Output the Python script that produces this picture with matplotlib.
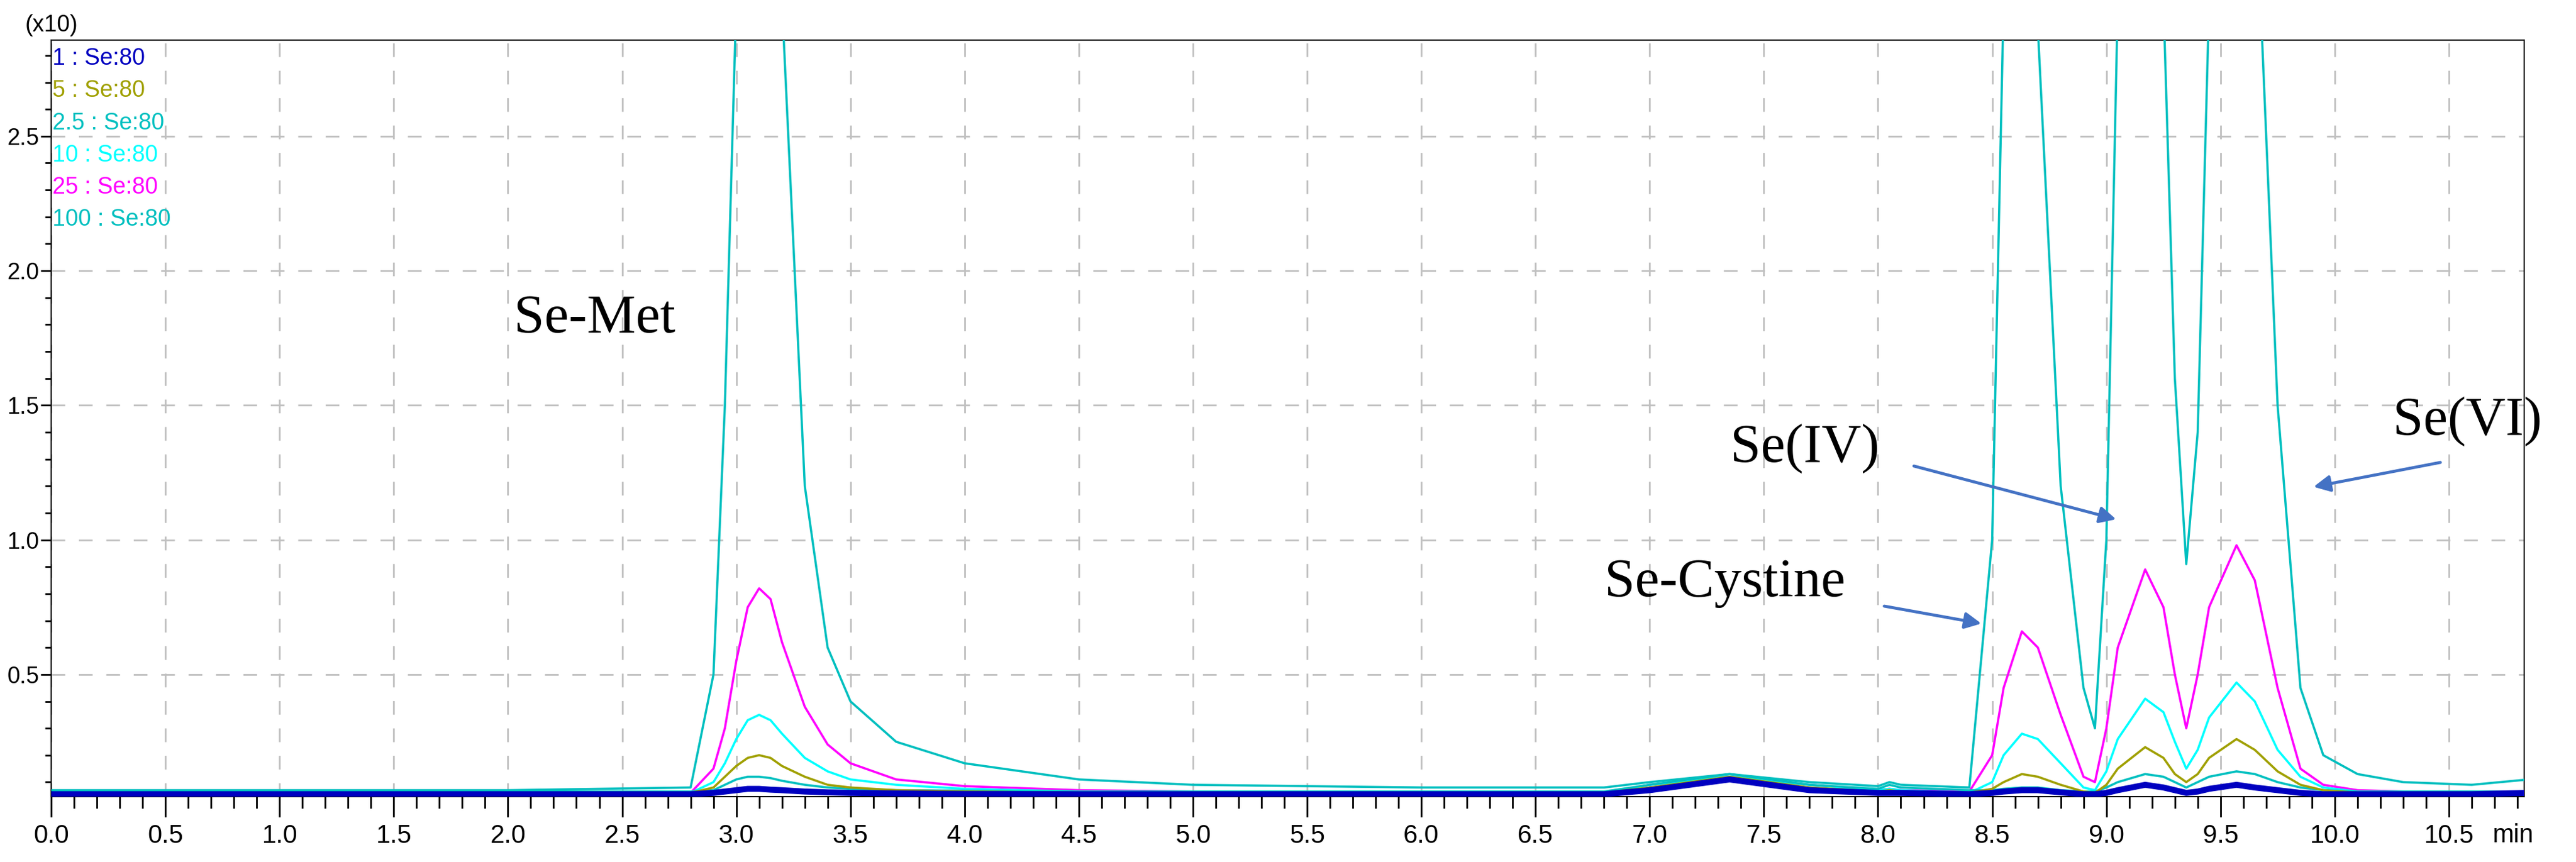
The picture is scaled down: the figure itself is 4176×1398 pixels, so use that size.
import matplotlib
matplotlib.use("Agg")
import matplotlib.pyplot as plt
from matplotlib.ticker import MultipleLocator

t = [0, 1, 2, 2.8, 2.9, 2.95, 3.0, 3.05, 3.1, 3.15, 3.2, 3.3, 3.4, 3.5, 3.7, 4.0, 4.5, 5.0, 6.0, 6.8,
     7.0, 7.35, 7.7, 8.0, 8.05, 8.1, 8.4, 8.5, 8.55, 8.63, 8.7, 8.8, 8.9, 8.95, 9.0, 9.05, 9.17, 9.25,
     9.3, 9.35, 9.4, 9.45, 9.57, 9.65, 9.75, 9.85, 9.95, 10.1, 10.3, 10.6, 10.85]

s1 = [.055, .055, .055, .055, .06, .065, .07, .075, .075, .072, .07, .065, .062, .06, .058, .056, .055, .055, .055, .055,
      .07, .11, .07, .06, .06, .06, .055, .06, .065, .07, .07, .062, .055, .055, .06, .07, .09, .08,
      .07, .06, .065, .075, .09, .08, .07, .06, .055, .055, .055, .055, .06]
s5 = [.06, .06, .06, .06, .08, .12, .16, .19, .20, .19, .16, .12, .09, .08, .07, .065, .06, .06, .06, .06,
      .08, .12, .08, .065, .07, .065, .06, .075, .10, .13, .12, .09, .065, .06, .09, .15, .23, .19,
      .13, .10, .13, .19, .26, .22, .14, .09, .07, .06, .06, .06, .06]
s25a = [.065, .065, .065, .065, .07, .09, .11, .12, .12, .115, .105, .09, .08, .075, .07, .068, .065, .065, .065, .065,
        .09, .13, .09, .075, .09, .08, .07, .07, .075, .08, .08, .07, .065, .065, .08, .10, .13, .12,
        .10, .08, .10, .12, .14, .13, .10, .08, .07, .065, .065, .065, .065]
s10 = [.06, .06, .06, .06, .10, .17, .26, .33, .35, .33, .28, .19, .14, .11, .09, .075, .065, .06, .06, .06,
       .09, .12, .09, .07, .075, .07, .06, .10, .20, .28, .26, .17, .08, .07, .14, .26, .41, .36,
       .25, .15, .22, .34, .47, .40, .22, .12, .08, .065, .06, .06, .06]
s25 = [.06, .06, .06, .06, .15, .30, .55, .75, .82, .78, .62, .38, .24, .17, .11, .085, .07, .065, .06, .06,
       .09, .12, .09, .07, .075, .07, .065, .20, .45, .66, .60, .35, .12, .10, .30, .60, .89, .75,
       .50, .30, .50, .75, .98, .85, .45, .15, .09, .07, .065, .065, .065]
s100 = [.07, .07, .07, .08, .5, 1.5, 3.0, 3.8, 4.0, 3.6, 3.0, 1.2, .6, .4, .25, .17, .11, .09, .08, .08,
        .10, .13, .10, .085, .10, .09, .08, 1.0, 3.0, 3.8, 2.9, 1.2, .45, .30, 1.0, 3.0, 4.0, 3.0,
        1.6, .91, 1.4, 3.0, 4.0, 3.5, 1.5, .45, .20, .13, .10, .09, .11]

labels = ["1 : Se:80", "5 : Se:80", "2.5 : Se:80", "10 : Se:80", "25 : Se:80", "100 : Se:80"]
colors = ["#0000C0", "#A0A000", "#00C0C0", "#00FFFF", "#FF00FF", "#00BFBF"]
series = [s1, s5, s25a, s10, s25, s100]

xticks = [i * 0.5 for i in range(22)]
yticks = [0.5, 1.0, 1.5, 2.0, 2.5]

NARROW = ["Liberation Sans", "DejaVu Sans"]
SERIF = ["Liberation Serif", "DejaVu Serif"]

fig = plt.figure(figsize=(41.76, 13.98), dpi=100)
ax = fig.add_axes([0.0199, 0.0758, 0.96, 0.8777])

order = [5, 4, 3, 2, 1, 0]
for i in order:
    lw = 7 if i == 0 else 2.6
    ax.plot(t, series[i], color=colors[i], lw=lw, zorder=3 + (6 - i), solid_joinstyle="round")

ax.set_xlim(0, 10.83)
ax.set_ylim(0.046, 2.857)
ax.set_xticks(xticks)
ax.set_xticklabels([f"{v:.1f}" for v in xticks], fontfamily=NARROW, fontsize=30)
ax.set_yticks(yticks)
ax.set_yticklabels([f"{v:.1f}" for v in yticks], fontfamily=NARROW, fontsize=27)
ax.xaxis.set_minor_locator(MultipleLocator(0.1))
ax.yaxis.set_minor_locator(MultipleLocator(0.1))
ax.tick_params(axis="x", which="major", length=24, width=2, pad=8)
ax.tick_params(axis="x", which="minor", length=14, width=2)
ax.tick_params(axis="y", which="major", length=12, width=2, pad=2)
ax.tick_params(axis="y", which="minor", length=7, width=2)
ax.grid(True, which="major", color="#C0C0C0", linestyle=(0, (8, 8)), lw=2)
for sp in ax.spines.values():
    sp.set_linewidth(1.5)

ax.text(0.0, 1.005, "(x10)", transform=ax.transAxes, ha="center", va="bottom",
        fontfamily=NARROW, fontsize=27)
ax.text(10.78, -0.035, "min", transform=ax.get_xaxis_transform(), ha="center", va="top",
        fontfamily=NARROW, fontsize=30)

for k, (lab, c) in enumerate(zip(labels, colors)):
    ax.text(0.0005, 0.99 - k * 0.0425, lab, transform=ax.transAxes, ha="left", va="top",
            color=c, fontfamily=NARROW, fontsize=27, zorder=10)

ann = [("Se-Met", 2.38, 1.82), ("Se(IV)", 7.68, 1.34), ("Se(VI)", 10.58, 1.44), ("Se-Cystine", 7.33, 0.84)]
for txt, x, y in ann:
    ax.text(x, y, txt, ha="center", va="center", fontfamily=SERIF, fontsize=64, zorder=12)

arrows = [((8.02, 0.755), (8.46, 0.688)), ((8.15, 1.276), (9.05, 1.075)), ((10.47, 1.289), (9.90, 1.196))]
for (x0, y0), (x1, y1) in arrows:
    ax.annotate("", xy=(x1, y1), xytext=(x0, y0),
                arrowprops=dict(arrowstyle="-|>,head_length=1.6,head_width=0.8", color="#4472C4", lw=3.5),
                zorder=12)

fig.savefig("out.png", dpi=100)
